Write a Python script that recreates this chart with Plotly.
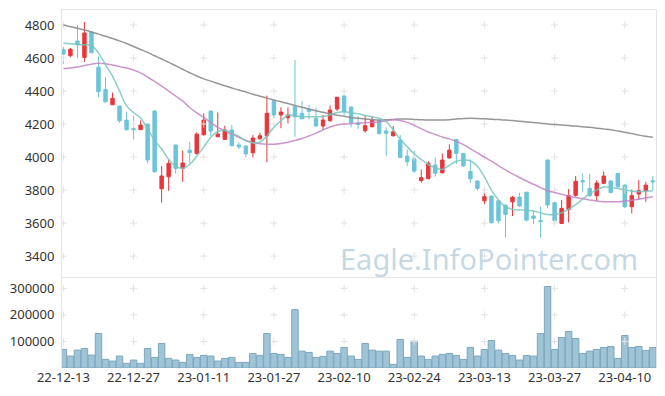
import plotly.graph_objects as go

dates = [
    "22-12-13", "22-12-14", "22-12-15", "22-12-16", "22-12-19", "22-12-20", "22-12-21", "22-12-22",
    "22-12-23", "22-12-26", "22-12-27", "22-12-28", "22-12-29",
    "23-01-02", "23-01-03", "23-01-04", "23-01-05", "23-01-06", "23-01-09", "23-01-10", "23-01-11",
    "23-01-12", "23-01-13", "23-01-16", "23-01-17", "23-01-18", "23-01-19", "23-01-20", "23-01-25",
    "23-01-26", "23-01-27", "23-01-30", "23-01-31",
    "23-02-01", "23-02-02", "23-02-03", "23-02-06", "23-02-07", "23-02-08", "23-02-09", "23-02-10",
    "23-02-13", "23-02-14", "23-02-15", "23-02-16", "23-02-17", "23-02-20", "23-02-21", "23-02-22",
    "23-02-23", "23-02-24", "23-02-27", "23-02-28",
    "23-03-02", "23-03-03", "23-03-06", "23-03-07", "23-03-08", "23-03-09", "23-03-10", "23-03-13",
    "23-03-14", "23-03-15", "23-03-16", "23-03-17", "23-03-20", "23-03-21", "23-03-22", "23-03-23",
    "23-03-24", "23-03-27", "23-03-28", "23-03-29", "23-03-30", "23-03-31",
    "23-04-03", "23-04-04", "23-04-05", "23-04-06", "23-04-07", "23-04-10", "23-04-11", "23-04-12",
    "23-04-13", "23-04-14",
]

open_ = [4650, 4614, 4703, 4604, 4758, 4544, 4410, 4317, 4309, 4224,
         4172, 4166, 4200, 4279, 3808, 3881, 4073, 3931, 4042, 4022,
         4135, 4279, 4123, 4107, 4164, 4073, 4067, 4026, 4111, 4129,
         4340, 4255, 4238, 4305, 4265, 4289, 4235, 4188, 4220, 4291,
         4370, 4303, 4206, 4160, 4184, 4222, 4158, 4129, 4103, 4006,
         3990, 3858, 3869, 3952, 3905, 3995, 4107, 4022, 3913, 3855,
         3735, 3764, 3735, 3709, 3729, 3758, 3787, 3643, 3615, 3982,
         3723, 3598, 3683, 3768, 3857, 3810, 3766, 3841, 3855, 3901,
         3830, 3699, 3776, 3796, 3857]
high = [4668, 4662, 4800, 4818, 4760, 4610, 4483, 4390, 4310, 4275,
        4250, 4222, 4202, 4280, 3945, 3986, 4075, 4040, 4091, 4150,
        4265, 4280, 4270, 4190, 4195, 4090, 4070, 4133, 4148, 4372,
        4342, 4301, 4301, 4588, 4341, 4315, 4300, 4255, 4313, 4365,
        4375, 4305, 4249, 4252, 4249, 4224, 4180, 4188, 4133, 4047,
        4038, 3925, 3975, 3998, 4022, 4077, 4110, 4025, 3986, 3858,
        3810, 3766, 3740, 3712, 3764, 3784, 3790, 3675, 3699, 3985,
        3730, 3740, 3806, 3885, 3901, 3897, 3860, 3913, 3860, 3903,
        3835, 3804, 3861, 3850, 3885]
low = [4565, 4604, 4598, 4576, 4630, 4362, 4329, 4315, 4208, 4160,
       4107, 4165, 3962, 3905, 3724, 3796, 3900, 3850, 3962, 4015,
       4130, 4130, 4120, 4105, 4065, 4048, 3998, 3998, 4105, 3968,
       4235, 4175, 4204, 4123, 4230, 4230, 4185, 4164, 4215, 4280,
       4244, 4180, 4170, 4147, 4180, 4135, 4006, 4125, 3995, 3945,
       3905, 3845, 3868, 3881, 3900, 3990, 3958, 3940, 3845, 3796,
       3715, 3600, 3598, 3513, 3643, 3700, 3610, 3594, 3513, 3689,
       3600, 3595, 3604, 3760, 3790, 3760, 3735, 3835, 3780, 3815,
       3690, 3659, 3744, 3729, 3800]
close = [4624, 4653, 4680, 4752, 4632, 4396, 4335, 4356, 4220, 4166,
         4166, 4194, 3982, 3911, 3885, 3962, 3931, 3964, 4027, 4139,
         4224, 4158, 4139, 4164, 4069, 4062, 4020, 4115, 4129, 4265,
         4255, 4273, 4255, 4244, 4232, 4277, 4188, 4224, 4285, 4362,
         4275, 4208, 4197, 4190, 4222, 4143, 4144, 4153, 3998, 3972,
         3915, 3875, 3962, 3902, 3982, 4042, 4022, 3947, 3869, 3810,
         3760, 3602, 3614, 3653, 3756, 3704, 3618, 3629, 3609, 3710,
         3614, 3689, 3766, 3853, 3850, 3766, 3843, 3885, 3786, 3820,
         3699, 3766, 3796, 3830, 3850]

ma5 = [4689, 4686, 4683, 4680, 4676, 4630, 4560, 4490, 4400, 4310,
       4270, 4236, 4170, 4100, 4050, 3985, 3945, 3932, 3955, 4005,
       4060, 4120, 4155, 4162, 4145, 4125, 4100, 4087, 4090, 4128,
       4180, 4220, 4253, 4250, 4244, 4244, 4244, 4246, 4255, 4270,
       4275, 4268, 4262, 4252, 4244, 4235, 4215, 4165, 4110, 4063,
       4020, 3985, 3955, 3935, 3925, 3950, 3975, 3982, 3978, 3945,
       3880, 3800, 3740, 3700, 3683, 3680, 3677, 3673, 3662, 3652,
       3652, 3662, 3684, 3712, 3746, 3778, 3800, 3818, 3816, 3810,
       3800, 3795, 3790, 3793, 3796]
ma20 = [4537, 4540, 4545, 4555, 4563, 4568, 4566, 4558, 4548, 4540,
        4528, 4510, 4485, 4458, 4430, 4400, 4370, 4340, 4300, 4268,
        4240, 4210, 4180, 4160, 4140, 4120, 4100, 4088, 4080, 4077,
        4078, 4082, 4090, 4100, 4112, 4128, 4145, 4165, 4182, 4194,
        4200, 4203, 4205, 4208, 4211, 4213, 4220, 4226, 4222, 4210,
        4192, 4172, 4152, 4137, 4122, 4110, 4095, 4075, 4050, 4025,
        4000, 3975, 3948, 3922, 3898, 3876, 3855, 3835, 3815, 3796,
        3785, 3775, 3765, 3755, 3747, 3740, 3734, 3730, 3729, 3729,
        3732, 3738, 3745, 3752, 3760]
ma60 = [4800, 4790, 4780, 4770, 4758, 4745, 4732, 4718, 4704, 4688,
        4670, 4652, 4634, 4614, 4594, 4574, 4553, 4532, 4511, 4491,
        4474, 4460, 4446, 4432, 4419, 4406, 4394, 4381, 4369, 4357,
        4346, 4335, 4324, 4313, 4302, 4291, 4281, 4271, 4262, 4254,
        4247, 4240, 4235, 4230, 4227, 4225, 4226, 4228, 4230, 4230,
        4228, 4226, 4225, 4224, 4225, 4226, 4230, 4234, 4235, 4234,
        4232, 4229, 4227, 4224, 4221, 4217, 4213, 4209, 4205, 4200,
        4197, 4194, 4191, 4188, 4184, 4180, 4175, 4170, 4165, 4158,
        4150, 4142, 4133, 4126, 4120]

volume = [69900, 44900, 67400, 73600, 48700, 129800, 32400, 26200, 44900, 17500,
          30000, 17500, 73600, 39900, 92400, 36200, 30000, 21200, 51200, 39900,
          47400, 44900, 26200, 36200, 39900, 21200, 21200, 54900, 47400, 129800,
          54900, 51200, 39900, 219600, 63600, 58700, 39900, 43700, 63600, 54900,
          77400, 44900, 32400, 92400, 67400, 63600, 63600, 13700, 107300, 39900,
          101100, 44900, 32400, 44900, 51200, 54900, 47400, 32400, 77400, 44900,
          69900, 103600, 67400, 54900, 47400, 30000, 47400, 44900, 129800, 307000,
          69900, 114800, 137300, 111100, 54900, 63600, 69900, 77400, 81100, 36200,
          122300, 77400, 81100, 66100, 77400]

tick_dates = ["22-12-13", "22-12-27", "23-01-11", "23-01-27", "23-02-10",
              "23-02-24", "23-03-13", "23-03-27", "23-04-10"]
price_ticks = [3400, 3600, 3800, 4000, 4200, 4400, 4600, 4800]
volume_ticks = [100000, 200000, 300000]

UP = "#e8363b"
DOWN = "#6cc4d9"
FONT = dict(family="Noto Sans", size=13, color="#333333")
LINE = "#e4e4e4"
CROSS = dict(symbol="cross-thin", size=5, line=dict(color="#e2e2e2", width=1))

fig = go.Figure()

# grid crosses
cx = [d for d in tick_dates for _ in price_ticks]
cy = [p for _ in tick_dates for p in price_ticks]
fig.add_trace(go.Scatter(x=cx, y=cy, mode="markers", hoverinfo="skip", showlegend=False,
                         marker=CROSS, xaxis="x", yaxis="y"))
vx = [d for d in tick_dates for _ in volume_ticks]
vy = [v for _ in tick_dates for v in volume_ticks]
fig.add_trace(go.Scatter(x=vx, y=vy, mode="markers", hoverinfo="skip", showlegend=False,
                         marker=CROSS, xaxis="x2", yaxis="y2"))

fig.add_trace(go.Candlestick(
    x=dates, open=open_, high=high, low=low, close=close,
    increasing=dict(line=dict(color=UP, width=1), fillcolor=UP),
    decreasing=dict(line=dict(color=DOWN, width=1), fillcolor=DOWN),
    whiskerwidth=0, showlegend=False, xaxis="x", yaxis="y"))

for vals, col in [(ma60, "rgba(140,140,140,0.9)"), (ma20, "rgba(196,130,196,0.85)"),
                  (ma5, "rgba(120,198,190,0.85)")]:
    fig.add_trace(go.Scatter(x=dates, y=vals, mode="lines", showlegend=False,
                             line=dict(color=col, width=1.5, shape="spline"),
                             xaxis="x", yaxis="y"))

fig.add_trace(go.Bar(x=dates, y=volume, showlegend=False,
                     marker=dict(color="rgba(145,188,208,0.88)", line=dict(color="#7ca7bf", width=1)),
                     xaxis="x2", yaxis="y2"))

fig.add_annotation(text="Eagle.InfoPointer.com", xref="paper", yref="paper",
                   x=0.719, y=0.307, xanchor="center", yanchor="middle", showarrow=False,
                   font=dict(family="Noto Sans", size=29, color="rgba(180,204,220,0.75)"))

xcommon = dict(type="category", categoryorder="array", categoryarray=dates,
               range=[-0.2, 84.45], showgrid=False, zeroline=False, ticks="",
               tickvals=tick_dates, ticktext=tick_dates, tickfont=FONT)

# the page body adds an 8px margin, so the figure is sized to fill the rest of the window
fig.update_layout(
    width=657, height=388,
    margin=dict(l=54, r=9, t=2, b=28),
    paper_bgcolor="white", plot_bgcolor="white",
    bargap=0.08,
    xaxis=dict(xcommon, domain=[0, 1], anchor="y", showticklabels=False,
               showline=True, mirror=True, linecolor=LINE, linewidth=1,
               rangeslider=dict(visible=False)),
    yaxis=dict(domain=[0.254, 1], range=[3273, 4891], tickvals=price_ticks,
               showgrid=False, zeroline=False, showline=True, mirror=True,
               linecolor=LINE, linewidth=1, ticks="", tickfont=FONT, tickformat="d",
               ticklabelstandoff=4),
    xaxis2=dict(xcommon, domain=[0, 1], anchor="y2", matches="x", showticklabels=True,
                showline=False),
    yaxis2=dict(domain=[0, 0.254], range=[0, 342500], tickvals=volume_ticks,
                showgrid=False, zeroline=False, showline=True, mirror=True,
                linecolor=LINE, linewidth=1, ticks="", tickfont=FONT, tickformat="d",
                ticklabelstandoff=4),
)

fig.write_html("out.html")
